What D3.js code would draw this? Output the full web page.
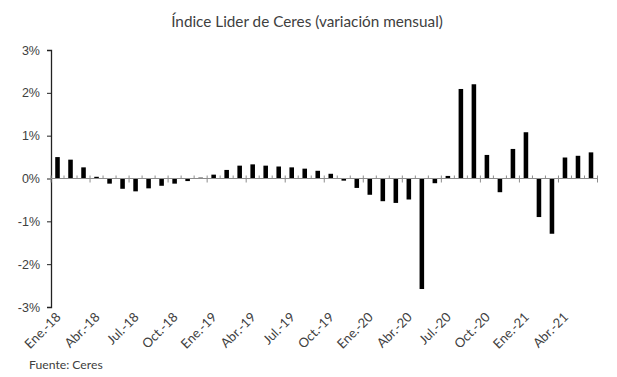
<!DOCTYPE html>
<html>
<head>
<meta charset="utf-8">
<script src="https://cdn.jsdelivr.net/npm/d3@7"></script>
<style>
  body { margin: 0; background: #fff; }
  svg { font-family: "Lato", "Open Sans", sans-serif; }
</style>
</head>
<body>
<svg id="chart" width="617" height="377"></svg>
<script>
// Datos: variación mensual del Índice Líder de Ceres (%)
const months = [
  "Ene.-18", "Feb.-18", "Mar.-18", "Abr.-18", "May.-18", "Jun.-18",
  "Jul.-18", "Ago.-18", "Sep.-18", "Oct.-18", "Nov.-18", "Dic.-18",
  "Ene.-19", "Feb.-19", "Mar.-19", "Abr.-19", "May.-19", "Jun.-19",
  "Jul.-19", "Ago.-19", "Sep.-19", "Oct.-19", "Nov.-19", "Dic.-19",
  "Ene.-20", "Feb.-20", "Mar.-20", "Abr.-20", "May.-20", "Jun.-20",
  "Jul.-20", "Ago.-20", "Sep.-20", "Oct.-20", "Nov.-20", "Dic.-20",
  "Ene.-21", "Feb.-21", "Mar.-21", "Abr.-21", "May.-21", "Jun.-21"
];
const values = [
  0.50, 0.44, 0.26, 0.04, -0.12, -0.24,
  -0.30, -0.23, -0.17, -0.12, -0.06, 0.02,
  0.09, 0.20, 0.30, 0.33, 0.30, 0.28,
  0.26, 0.23, 0.18, 0.11, -0.05, -0.22,
  -0.38, -0.53, -0.57, -0.49, -2.58, -0.11,
  0.06, 2.09, 2.20, 0.55, -0.32, 0.69,
  1.08, -0.90, -1.29, 0.49, 0.53, 0.61
];
const yTicks = [-3, -2, -1, 0, 1, 2, 3];

const svg = d3.select("#chart");
const margin = { top: 50, left: 51, right: 20 };
const plotW = 546.5;
const plotH = 257;

const g = svg.append("g").attr("transform", `translate(${margin.left},${margin.top})`);

const x = d3.scaleBand().domain(months).range([0, plotW]).paddingInner(0.65).paddingOuter(0.325);
const y = d3.scaleLinear().domain([-3, 3]).range([plotH, 0]);
const step = x.step();

// Título
svg.append("text")
  .attr("x", 307)
  .attr("y", 27)
  .attr("text-anchor", "middle")
  .attr("font-size", 15.3)
  .attr("fill", "#404040")
  .text("Índice Lider de Ceres (variación mensual)");

// Barras
g.selectAll("rect.bar")
  .data(values)
  .join("rect")
  .attr("class", "bar")
  .attr("x", (d, i) => x(months[i]))
  .attr("width", x.bandwidth())
  .attr("y", d => y(Math.max(0, d)))
  .attr("height", d => Math.abs(y(d) - y(0)))
  .attr("fill", "#000");

// Eje Y
const yAxis = g.append("g")
  .call(d3.axisLeft(y).tickValues(yTicks).tickSize(4).tickPadding(7).tickFormat(d => d + "%"));
yAxis.select(".domain").attr("stroke", "#222").attr("stroke-width", 1.3);
yAxis.selectAll(".tick line").attr("stroke", "#222");
yAxis.selectAll(".tick text").attr("font-size", 12.5).attr("fill", "#404040");

// Eje X en cero
const xAxisG = g.append("g").attr("transform", `translate(0,${y(0)})`);
xAxisG.append("line")
  .attr("x1", 0).attr("x2", plotW)
  .attr("stroke", "#8c8c8c");
// marcas menores en cada mes, mayores cada trimestre
const bounds = d3.range(months.length + 1);
xAxisG.selectAll("line.tk")
  .data(bounds)
  .join("line")
  .attr("class", "tk")
  .attr("x1", i => i * step).attr("x2", i => i * step)
  .attr("y1", i => (i % 3 === 0 ? 4 : 0))
  .attr("y2", -3)
  .attr("stroke", "#8c8c8c");

// Etiquetas del eje X (cada 3 meses)
g.append("g")
  .selectAll("text")
  .data(months.filter((m, i) => i % 3 === 0))
  .join("text")
  .attr("transform", m => `translate(${x(m) + x.bandwidth() / 2 + 4},${plotH + 11}) rotate(-45)`)
  .attr("text-anchor", "end")
  .attr("font-size", 13)
  .attr("fill", "#404040")
  .text(m => m);

// Fuente
svg.append("text")
  .attr("x", 29)
  .attr("y", 369)
  .attr("font-size", 12.2)
  .attr("fill", "#404040")
  .text("Fuente: Ceres");
</script>
</body>
</html>
